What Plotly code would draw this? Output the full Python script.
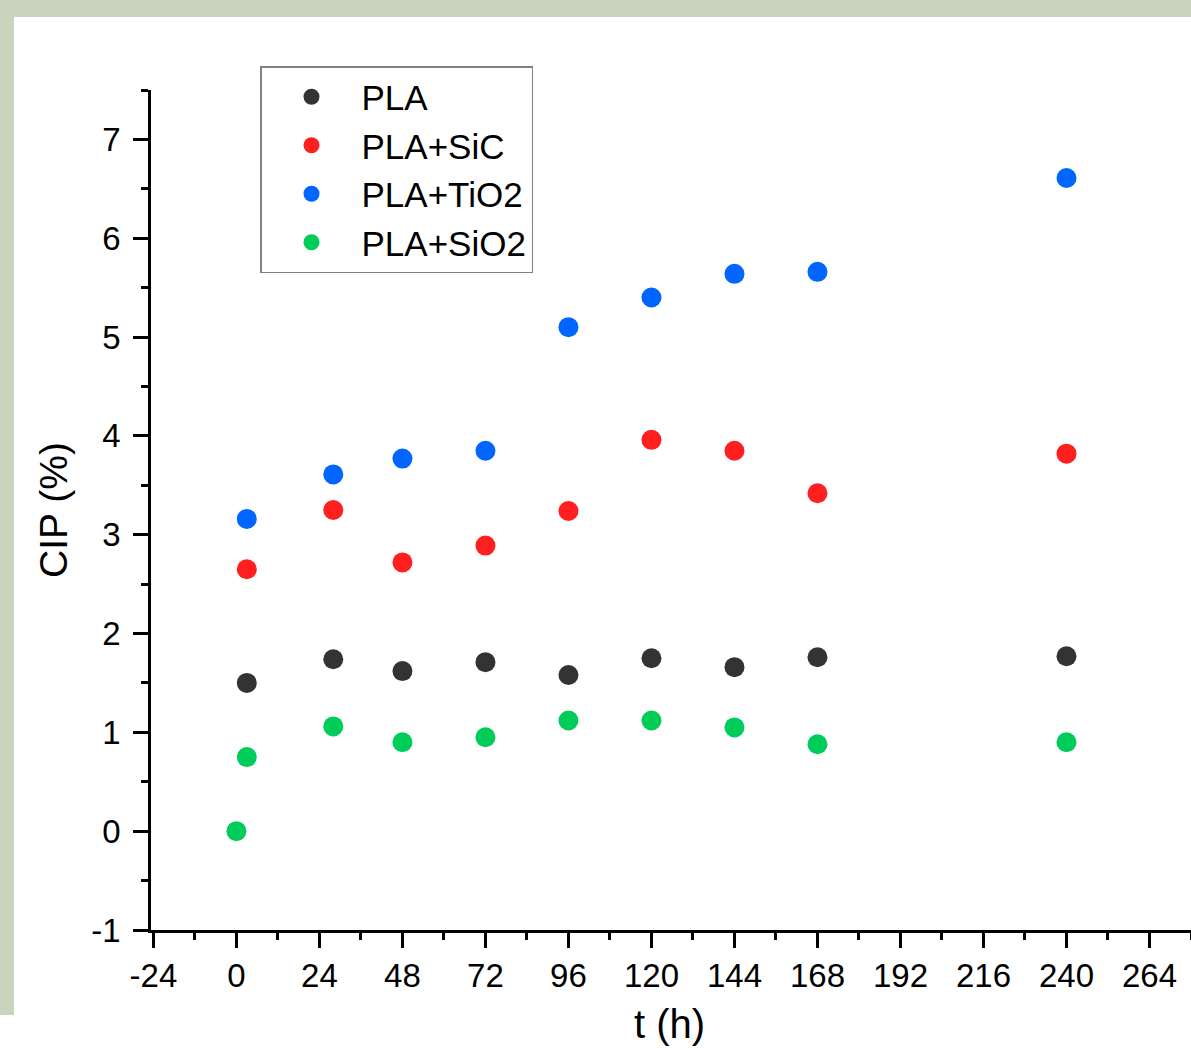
import plotly.graph_objects as go

# ---- data ----
t_common = [3, 28, 48, 72, 96, 120, 144, 168, 240]
pla = [1.50, 1.74, 1.62, 1.71, 1.58, 1.75, 1.66, 1.76, 1.77]
pla_sic = [2.65, 3.25, 2.72, 2.89, 3.24, 3.96, 3.85, 3.42, 3.82]
pla_tio2 = [3.16, 3.61, 3.77, 3.85, 5.10, 5.40, 5.64, 5.66, 6.61]
t_sio2 = [0, 3, 28, 48, 72, 96, 120, 144, 168, 240]
pla_sio2 = [0.00, 0.75, 1.06, 0.90, 0.95, 1.12, 1.12, 1.05, 0.88, 0.90]

series = [
    ("PLA", t_common, pla, "#333333"),
    ("PLA+SiC", t_common, pla_sic, "#ff1f1f"),
    ("PLA+TiO2", t_common, pla_tio2, "#0066ff"),
    ("PLA+SiO2", t_sio2, pla_sio2, "#00cc5a"),
]

x_ticks = [-24, 0, 24, 48, 72, 96, 120, 144, 168, 192, 216, 240, 264]
y_ticks = [-1, 0, 1, 2, 3, 4, 5, 6, 7]
x_title = "t (h)"
y_title = "CIP (%)"

W, H = 1191, 1048
L, R, T, B = 151, 0, 90, 118
FONT = "Liberation Sans, Arial, sans-serif"

fig = go.Figure()
for name, x, y, c in series:
    fig.add_trace(go.Scatter(
        x=x, y=y, mode="markers", name=name,
        marker=dict(size=20, color=c, line=dict(width=0)),
    ))

pw, ph = W - L - R, H - T - B
def px(xpix):
    return (xpix - L) / pw
def py(ypix):
    return (H - B - ypix) / ph

GREEN = "#cad3bd"
fig.add_shape(type="rect", xref="paper", yref="paper",
              x0=px(0), x1=px(W), y0=py(17), y1=py(0),
              fillcolor=GREEN, line_width=0, layer="below")
fig.add_shape(type="rect", xref="paper", yref="paper",
              x0=px(0), x1=px(14), y0=py(1015), y1=py(17),
              fillcolor=GREEN, line_width=0, layer="below")

axis_common = dict(
    showgrid=False, zeroline=False, showline=True, linecolor="black",
    linewidth=2.5, ticks="outside", tickcolor="black", tickwidth=2.5,
    ticklen=15, tickfont=dict(family=FONT, size=33, color="black"),
    mirror=False,
)

fig.update_xaxes(
    **axis_common,
    range=[-24.7, 276], tickmode="array", tickvals=x_ticks,
    ticktext=[str(v) for v in x_ticks],
    minor=dict(ticks="outside", dtick=12, tick0=-24, ticklen=7,
               tickwidth=2.5, tickcolor="black", showgrid=False),
)
fig.update_yaxes(
    **axis_common,
    range=[-1, 7.5], tickmode="array", tickvals=y_ticks,
    ticktext=[str(v) for v in y_ticks],
    ticklabelstandoff=6,
    minor=dict(ticks="outside", dtick=0.5, tick0=-1, ticklen=7,
               tickwidth=2.5, tickcolor="black", showgrid=False),
    title=dict(text=y_title, font=dict(family=FONT, size=39, color="black"),
               standoff=12),
)

# x-axis title, placed as low as possible while staying fully visible
fig.add_annotation(
    text=x_title, xref="paper", yref="paper",
    x=px(669), y=py(1000), xanchor="center", yanchor="top",
    showarrow=False, font=dict(family=FONT, size=40, color="black"),
)

fig.update_layout(
    width=W, height=H,
    margin=dict(l=L, r=R, t=T, b=B, autoexpand=False),
    paper_bgcolor="white", plot_bgcolor="white",
    showlegend=True,
    legend=dict(
        x=px(260), y=py(66), xanchor="left", yanchor="top",
        bordercolor="#808080", borderwidth=1.5, bgcolor="white",
        font=dict(family=FONT, size=35, color="black"),
        itemwidth=90, tracegroupgap=0,
    ),
)

fig.write_html("out.html")
